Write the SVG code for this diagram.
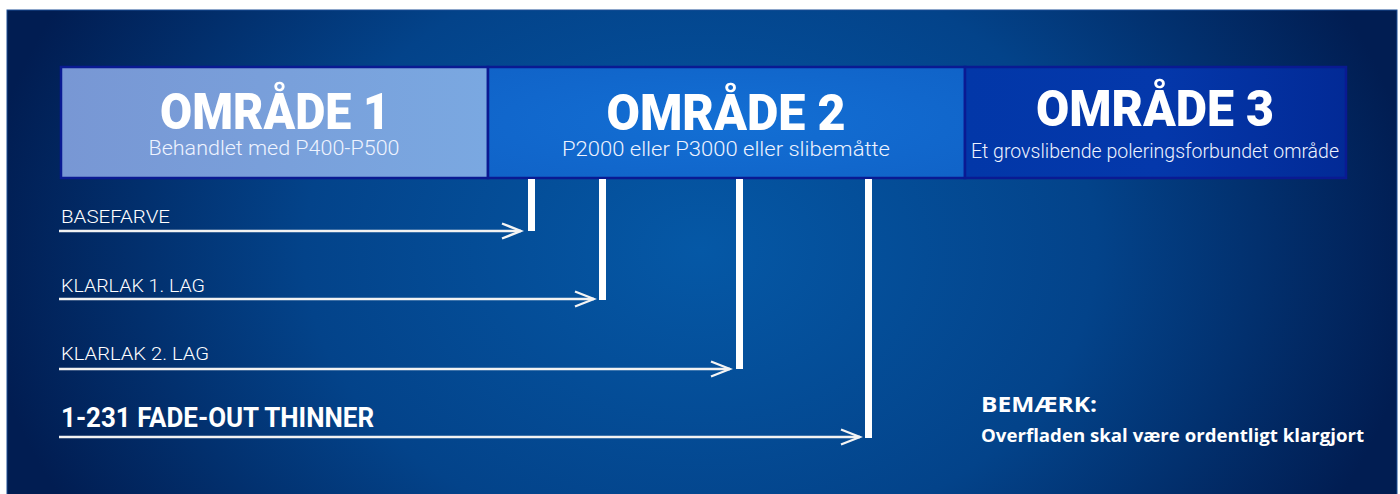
<svg xmlns="http://www.w3.org/2000/svg" width="1400" height="494" viewBox="0 0 1400 494">
  <defs>
    <radialGradient id="bg" cx="700" cy="250" r="720" gradientUnits="userSpaceOnUse" gradientTransform="translate(700 250) scale(1 0.75) translate(-700 -250)">
      <stop offset="0" stop-color="#0558a6"/>
      <stop offset="0.55" stop-color="#03438a"/>
      <stop offset="1" stop-color="#011d52"/>
    </radialGradient>
    <linearGradient id="g1" x1="0" y1="0" x2="1" y2="0">
      <stop offset="0" stop-color="#7897d4"/>
      <stop offset="1" stop-color="#7aa8e1"/>
    </linearGradient>
    <radialGradient id="g2" cx="0.5" cy="0.5" r="0.7">
      <stop offset="0" stop-color="#136fd4"/>
      <stop offset="1" stop-color="#1063c8"/>
    </radialGradient>
    <linearGradient id="g3" x1="0" y1="0" x2="1" y2="0">
      <stop offset="0" stop-color="#0237a8"/>
      <stop offset="0.5" stop-color="#0438ab"/>
      <stop offset="1" stop-color="#022a96"/>
    </linearGradient>
    <marker id="arr" markerUnits="userSpaceOnUse" markerWidth="24" markerHeight="20" viewBox="0 0 24 20" refX="21" refY="10" orient="auto">
      <path d="M2,2.5 L21,10 L2,17.5" fill="none" stroke="#f4f4f4" stroke-width="2.4"/>
    </marker>
    <style>
      .box { stroke: #0a1a92; stroke-width: 2.5; }
      .title { font-family: Roboto, "Liberation Sans", sans-serif; font-weight: 900; font-size: 50px; fill: #ffffff; text-anchor: middle; }
      .sub { font-family: Roboto, "Liberation Sans", sans-serif; font-weight: 300; font-size: 20px; fill: #eef3ff; text-anchor: middle; }
      .lbl { font-family: Roboto, "Liberation Sans", sans-serif; font-weight: 300; font-size: 19px; fill: #ffffff; }
      .lblb { font-family: Roboto, "Liberation Sans", sans-serif; font-weight: 700; font-size: 27px; fill: #ffffff; }
      .note { font-family: "Open Sans", "Liberation Sans", sans-serif; font-weight: 700; fill: #ffffff; }
      .line { stroke: #f2f2f2; stroke-width: 2.5; fill: none; }
      .bar { fill: #ffffff; }
    </style>
  </defs>

  <rect x="0" y="0" width="1400" height="494" fill="#ffffff"/>
  <rect x="7" y="10" width="1390" height="490" fill="url(#bg)" stroke="#1d4f96" stroke-width="1"/>

  <g id="omraade1">
    <rect class="box" x="61" y="67" width="427" height="111" fill="url(#g1)"/>
    <text class="title" x="275" y="129" textLength="230" lengthAdjust="spacingAndGlyphs">OMRÅDE 1</text>
    <text class="sub" x="274" y="155" textLength="251" lengthAdjust="spacingAndGlyphs">Behandlet med P400-P500</text>
  </g>

  <g id="omraade2">
    <rect class="box" x="488" y="67" width="477" height="111" fill="url(#g2)"/>
    <text class="title" x="726" y="130" textLength="239" lengthAdjust="spacingAndGlyphs">OMRÅDE 2</text>
    <text class="sub" x="726" y="156" textLength="328" lengthAdjust="spacingAndGlyphs">P2000 eller P3000 eller slibemåtte</text>
  </g>

  <g id="omraade3">
    <rect class="box" x="965" y="67" width="381" height="111" fill="url(#g3)"/>
    <text class="title" x="1155" y="126" textLength="238" lengthAdjust="spacingAndGlyphs">OMRÅDE 3</text>
    <text class="sub" x="1155" y="158" textLength="368" lengthAdjust="spacingAndGlyphs">Et grovslibende poleringsforbundet område</text>
  </g>

  <g id="bars">
    <rect class="bar" x="528" y="179" width="7" height="52"/>
    <rect class="bar" x="599" y="179" width="7" height="121"/>
    <rect class="bar" x="736" y="179" width="7" height="190"/>
    <rect class="bar" x="865" y="179" width="7" height="259"/>
  </g>

  <g id="label-basefarve">
    <text class="lbl" x="61" y="223" textLength="109" lengthAdjust="spacingAndGlyphs">BASEFARVE</text>
  </g>
  <g id="label-klarlak1">
    <text class="lbl" x="61" y="292" textLength="144" lengthAdjust="spacingAndGlyphs">KLARLAK 1. LAG</text>
  </g>
  <g id="label-klarlak2">
    <text class="lbl" x="61" y="360" textLength="148" lengthAdjust="spacingAndGlyphs">KLARLAK 2. LAG</text>
  </g>
  <g id="label-thinner">
    <text class="lblb" x="61" y="427" textLength="313" lengthAdjust="spacingAndGlyphs">1-231 FADE-OUT THINNER</text>
  </g>

  <g id="connectors">
    <line class="line" x1="59" y1="231" x2="521" y2="231" marker-end="url(#arr)"/>
    <line class="line" x1="59" y1="299" x2="594" y2="299" marker-end="url(#arr)"/>
    <line class="line" x1="59" y1="369" x2="730" y2="369" marker-end="url(#arr)"/>
    <line class="line" x1="59" y1="437" x2="860" y2="437" marker-end="url(#arr)"/>
  </g>

  <g id="note">
    <text class="note" x="981" y="412" font-size="22" textLength="116" lengthAdjust="spacingAndGlyphs">BEMÆRK:</text>
    <text class="note" x="981" y="442" font-size="17" textLength="383" lengthAdjust="spacingAndGlyphs">Overfladen skal være ordentligt klargjort</text>
  </g>
</svg>
